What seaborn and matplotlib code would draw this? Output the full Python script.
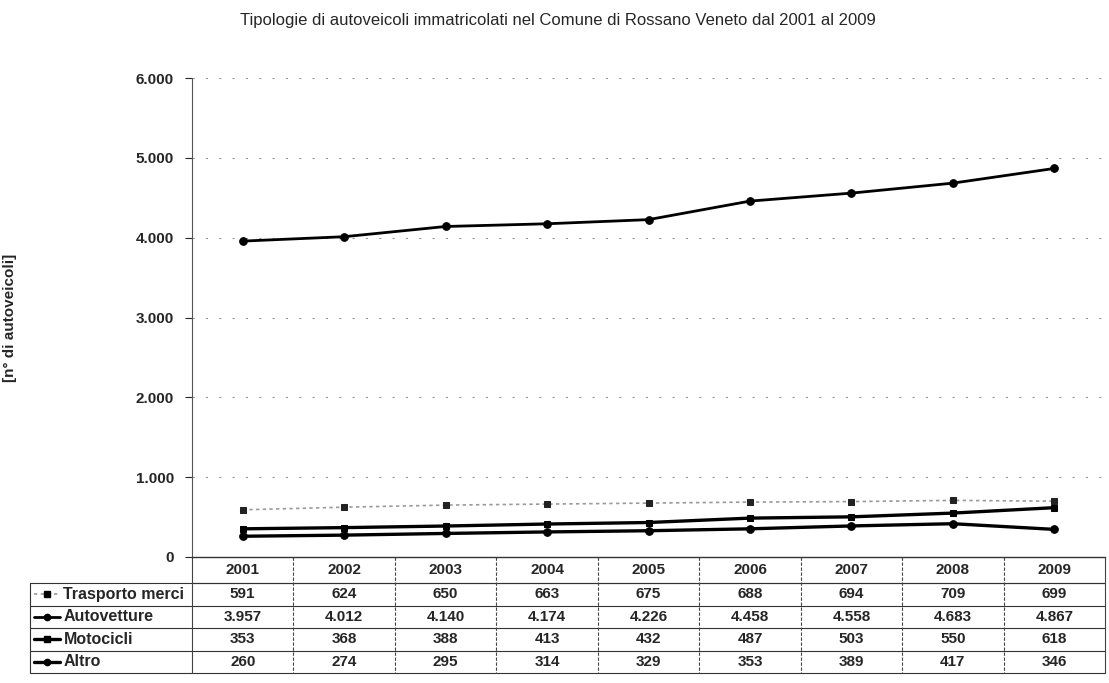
import seaborn as sns
import matplotlib.pyplot as plt
import matplotlib.transforms as mtransforms
import pandas as pd

years = ["2001", "2002", "2003", "2004", "2005", "2006", "2007", "2008", "2009"]
series_names = ["Trasporto merci", "Autovetture", "Motocicli", "Altro"]
trasporto_merci = [591, 624, 650, 663, 675, 688, 694, 709, 699]
autovetture = [3957, 4012, 4140, 4174, 4226, 4458, 4558, 4683, 4867]
motocicli = [353, 368, 388, 413, 432, 487, 503, 550, 618]
altro = [260, 274, 295, 314, 329, 353, 389, 417, 346]
yticks = [0, 1000, 2000, 3000, 4000, 5000, 6000]


def fmt_it(v):
    return f"{v:,.0f}".replace(",", ".")


sns.set_style("white")
plt.rcParams['font.family'] = ['Liberation Sans', 'DejaVu Sans']

W, H = 1109, 683
fig = plt.figure(figsize=(W / 100, H / 100), dpi=100)
ax_l, ax_r, ax_t, ax_b = 192, 1105, 78, 557
ax = fig.add_axes([ax_l / W, (H - ax_b) / H, (ax_r - ax_l) / W, (ax_b - ax_t) / H])

values = [trasporto_merci, autovetture, motocicli, altro]
styles = {
    "Trasporto merci": dict(color="#9a9a9a", linestyle=(0, (2, 2)), linewidth=1.2, marker="s",
                            markersize=5, markerfacecolor="#222222", markeredgecolor="#222222"),
    "Autovetture": dict(color="black", linestyle="-", linewidth=2.0, marker="o", markersize=5.5),
    "Motocicli": dict(color="black", linestyle="-", linewidth=2.4, marker="s", markersize=5),
    "Altro": dict(color="black", linestyle="-", linewidth=2.4, marker="o", markersize=5.5),
}

for name, vals in zip(series_names, values):
    df = pd.DataFrame({"x": range(len(years)), "y": vals})
    st = styles[name]
    sns.lineplot(data=df, x="x", y="y", ax=ax, color=st["color"], linestyle=st["linestyle"],
                 linewidth=st["linewidth"], marker=st["marker"], markersize=st["markersize"],
                 markerfacecolor=st.get("markerfacecolor", "black"),
                 markeredgecolor=st.get("markeredgecolor", "black"))

ax.set_xlim(-0.5, len(years) - 0.5)
ax.set_ylim(0, 6000)
ax.set_yticks(yticks)
ax.set_yticklabels([fmt_it(v) for v in yticks], fontsize=11, fontweight="bold")
ax.set_xticks([])
ax.set_xlabel("")
ax.set_ylabel("[n° di autoveicoli]", fontsize=11, fontweight="bold")
ax.yaxis.set_label_coords((17 - ax_l) / (ax_r - ax_l), 0.5)
ax.tick_params(axis="y", length=5, width=0.8, direction="out", left=True, pad=8)
for v in yticks[1:]:
    ax.axhline(v, color="#9a9a9a", linestyle=(0, (2, 10)), linewidth=0.8, zorder=0)
for side in ["top", "right"]:
    ax.spines[side].set_visible(False)
ax.spines["left"].set_color("#555555")
ax.spines["bottom"].set_color("#333333")
ax.spines["left"].set_linewidth(0.8)
ax.spines["bottom"].set_linewidth(1.0)

fig.text(558 / W, 1 - 20 / H, "Tipologie di autoveicoli immatricolati nel Comune di Rossano Veneto dal 2001 al 2009",
         ha="center", va="center", fontsize=12)

# data table below the axes
trans = mtransforms.blended_transform_factory(ax.transData, ax.transAxes)
plot_h = ax_b - ax_t
col_w = (ax_r - ax_l) / len(years)
label_left = -0.5 - (ax_l - 30) / col_w
header_h = 26 / plot_h
row_h = 22.5 / plot_h
n = len(years)
lk = dict(transform=trans, clip_on=False)

y_head_bot = -header_h
y_rows = [y_head_bot - row_h * i for i in range(len(series_names) + 1)]

# header cells
for i, yr in enumerate(years):
    ax.text(i, -header_h / 2, yr, ha="center", va="center", fontsize=11, fontweight="bold", **lk)
# horizontal lines
ax.plot([-0.5, n - 0.5], [y_head_bot, y_head_bot], color="#333333", lw=0.8, **lk)
for y in y_rows:
    ax.plot([label_left, n - 0.5], [y, y], color="#333333", lw=0.8, **lk)
# vertical lines
for i in range(n + 1):
    ax.plot([i - 0.5, i - 0.5], [0, y_rows[-1]], color="#444444", lw=0.8,
            linestyle="-" if i in (0, n) else (0, (3, 1.5)), **lk)
ax.plot([label_left, label_left], [y_rows[0], y_rows[-1]], color="#333333", lw=0.8, **lk)

for r, (name, vals) in enumerate(zip(series_names, values)):
    yc = (y_rows[r] + y_rows[r + 1]) / 2
    st = styles[name]
    kx = [label_left + 0.04, label_left + 0.30]
    ax.plot(kx, [yc, yc], color=st["color"], linestyle=st["linestyle"], linewidth=st["linewidth"], **lk)
    ax.plot([sum(kx) / 2], [yc], marker=st["marker"], markersize=4.5, color="black", **lk)
    ax.text(label_left + 0.33, yc, name, ha="left", va="center", fontsize=11.5, fontweight="bold", **lk)
    for i, v in enumerate(vals):
        ax.text(i, yc, fmt_it(v), ha="center", va="center", fontsize=11, fontweight="bold", **lk)

fig.savefig("out.png", dpi=100)
